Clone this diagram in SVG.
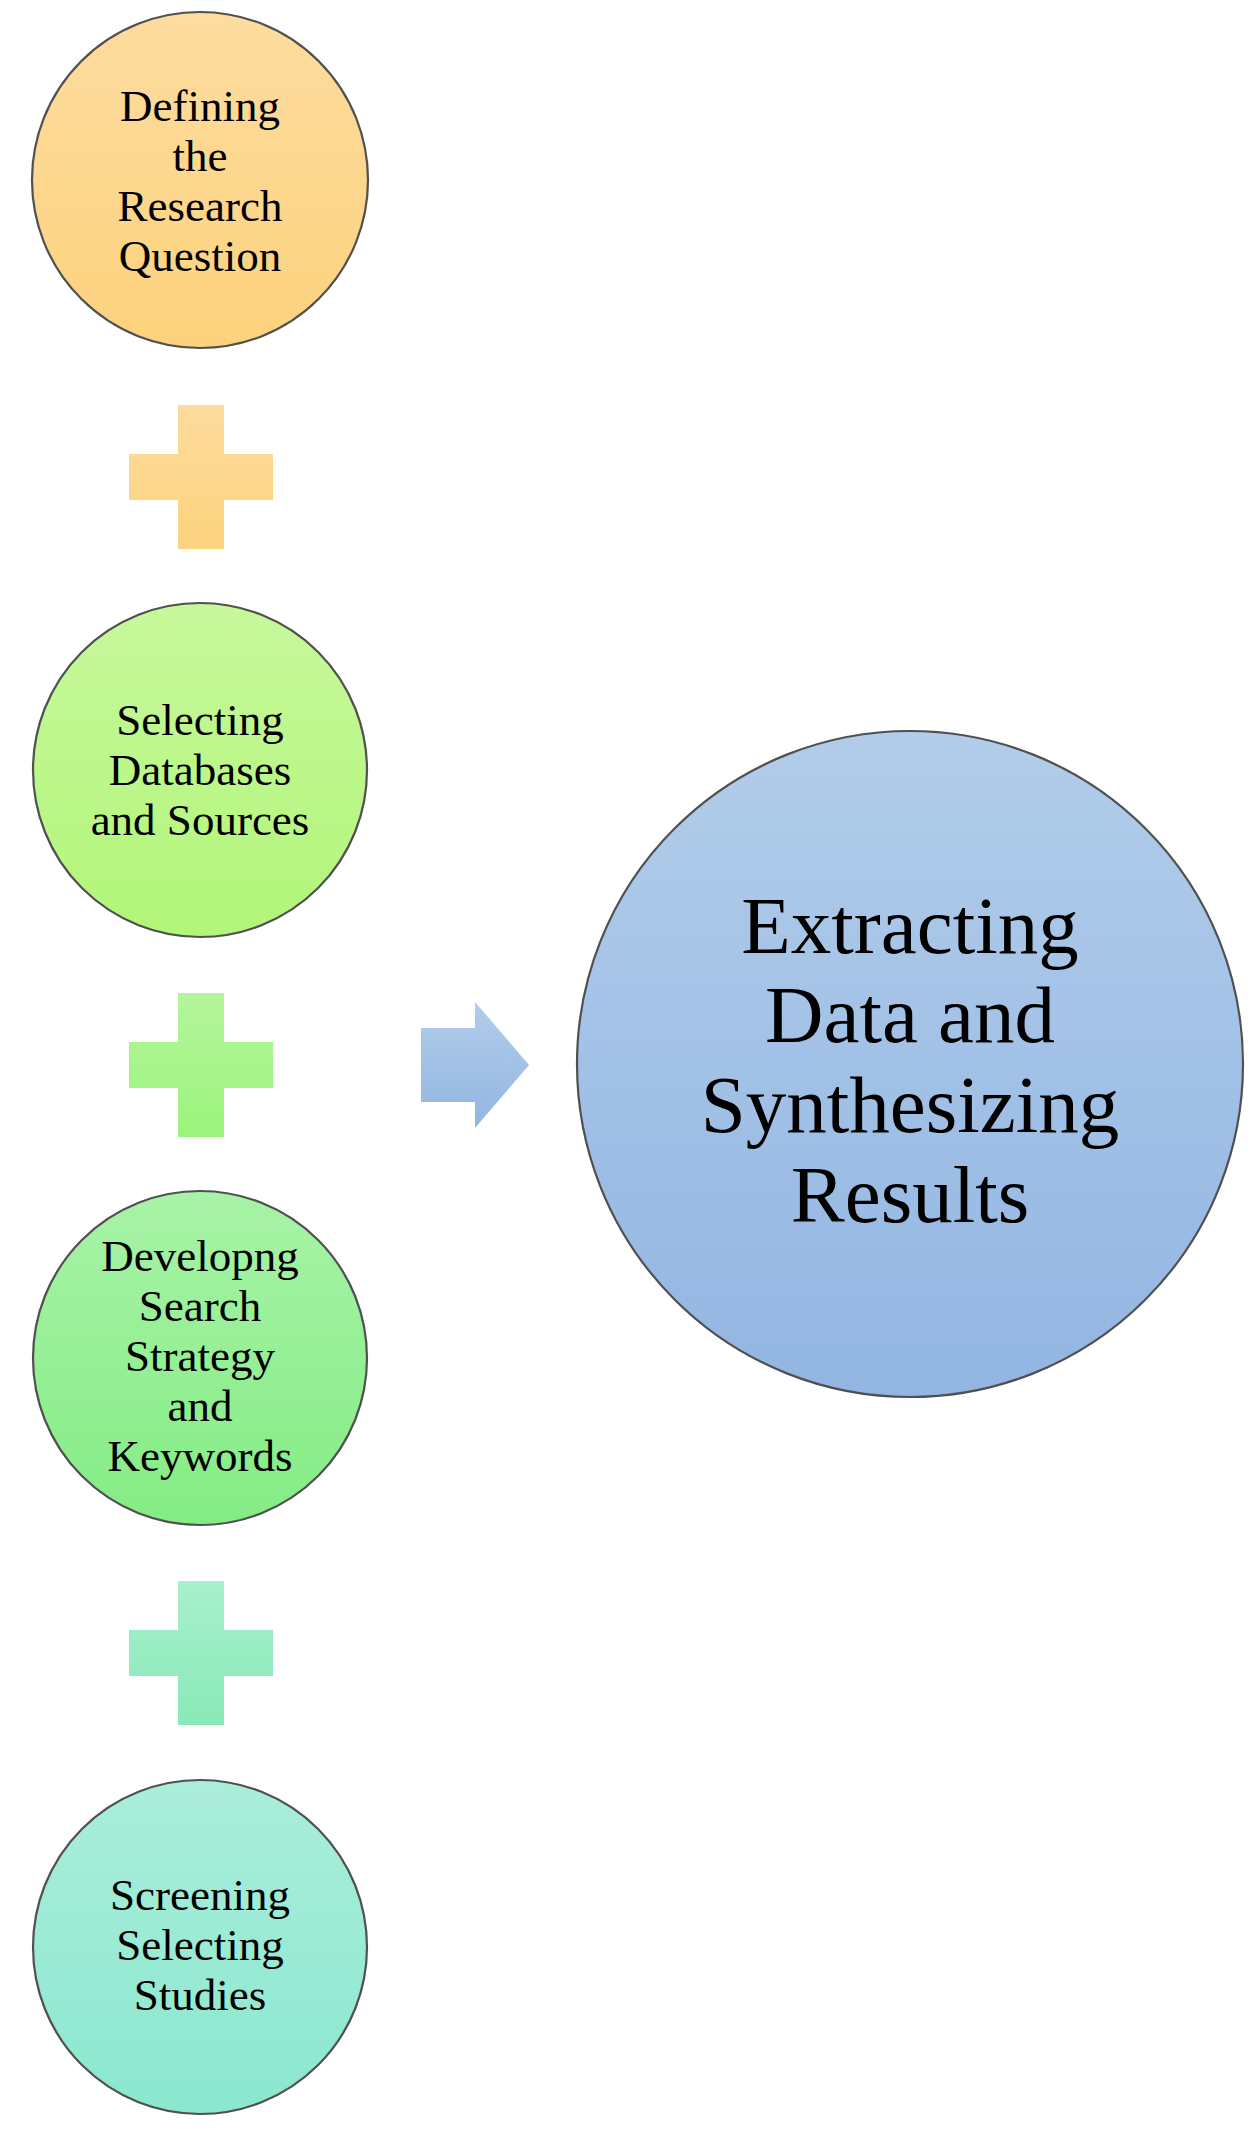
<svg xmlns="http://www.w3.org/2000/svg" width="1254" height="2131" viewBox="0 0 1254 2131">
<defs>
<linearGradient id="gO" x1="0" y1="0" x2="0" y2="1"><stop offset="0" stop-color="#FDDC9F"/><stop offset="1" stop-color="#FCD27D"/></linearGradient>
<linearGradient id="gOc" x1="0" y1="0" x2="0" y2="1"><stop offset="0" stop-color="#FDDB9C"/><stop offset="1" stop-color="#FCD37E"/></linearGradient>
<linearGradient id="gL" x1="0" y1="0" x2="0" y2="1"><stop offset="0" stop-color="#C7F89C"/><stop offset="1" stop-color="#B2F679"/></linearGradient>
<linearGradient id="gLc" x1="0" y1="0" x2="0" y2="1"><stop offset="0" stop-color="#B4F59C"/><stop offset="1" stop-color="#9BF47B"/></linearGradient>
<linearGradient id="gG" x1="0" y1="0" x2="0" y2="1"><stop offset="0" stop-color="#A8F3A7"/><stop offset="1" stop-color="#84EC84"/></linearGradient>
<linearGradient id="gGc" x1="0" y1="0" x2="0" y2="1"><stop offset="0" stop-color="#A7F0CC"/><stop offset="1" stop-color="#89E9B8"/></linearGradient>
<linearGradient id="gT" x1="0" y1="0" x2="0" y2="1"><stop offset="0" stop-color="#AAEEDB"/><stop offset="1" stop-color="#8BE7CF"/></linearGradient>
<linearGradient id="gB" x1="0" y1="0" x2="0" y2="1"><stop offset="0" stop-color="#B2CDEA"/><stop offset="1" stop-color="#92B5E2"/></linearGradient>
<style>
.c{stroke:#505050;stroke-width:2.2}
.t{font-family:"Liberation Serif","Times New Roman",serif;font-size:45px;fill:#000;text-anchor:middle}
.tb{font-family:"Liberation Serif","Times New Roman",serif;font-size:81px;fill:#000;text-anchor:middle}
</style>
</defs>
<g id="node-defining">
<circle class="c" cx="200" cy="180" r="168" fill="url(#gO)"/>
<text class="t"><tspan x="200" y="121">Defining</tspan><tspan x="200" y="171">the</tspan><tspan x="200" y="221">Research</tspan><tspan x="200" y="271">Question</tspan></text>
</g>
<g id="node-selecting">
<circle class="c" cx="200" cy="770" r="167" fill="url(#gL)"/>
<text class="t"><tspan x="200" y="735">Selecting</tspan><tspan x="200" y="785">Databases</tspan><tspan x="200" y="835">and Sources</tspan></text>
</g>
<g id="node-developing">
<circle class="c" cx="200" cy="1358" r="167" fill="url(#gG)"/>
<text class="t"><tspan x="200" y="1271">Developng</tspan><tspan x="200" y="1321">Search</tspan><tspan x="200" y="1371">Strategy</tspan><tspan x="200" y="1421">and</tspan><tspan x="200" y="1471">Keywords</tspan></text>
</g>
<g id="node-screening">
<circle class="c" cx="200" cy="1947" r="167" fill="url(#gT)"/>
<text class="t"><tspan x="200" y="1910">Screening</tspan><tspan x="200" y="1960">Selecting</tspan><tspan x="200" y="2010">Studies</tspan></text>
</g>
<g id="node-extracting">
<circle class="c" cx="910" cy="1064" r="333" fill="url(#gB)"/>
<text class="tb"><tspan x="910" y="953">Extracting</tspan><tspan x="910" y="1042">Data and</tspan><tspan x="910" y="1132">Synthesizing</tspan><tspan x="910" y="1222">Results</tspan></text>
</g>
<g id="connectors">
<path d="M178 405H224V454H273V500H224V549H178V500H129V454H178Z" fill="url(#gOc)"/>
<path d="M178 993H224V1042H273V1088H224V1137H178V1088H129V1042H178Z" fill="url(#gLc)"/>
<path d="M178 1581H224V1630H273V1676H224V1725H178V1676H129V1630H178Z" fill="url(#gGc)"/>
<path d="M421 1028H475V1002L529 1065L475 1128V1102H421Z" fill="url(#gB)"/>
</g>
</svg>
